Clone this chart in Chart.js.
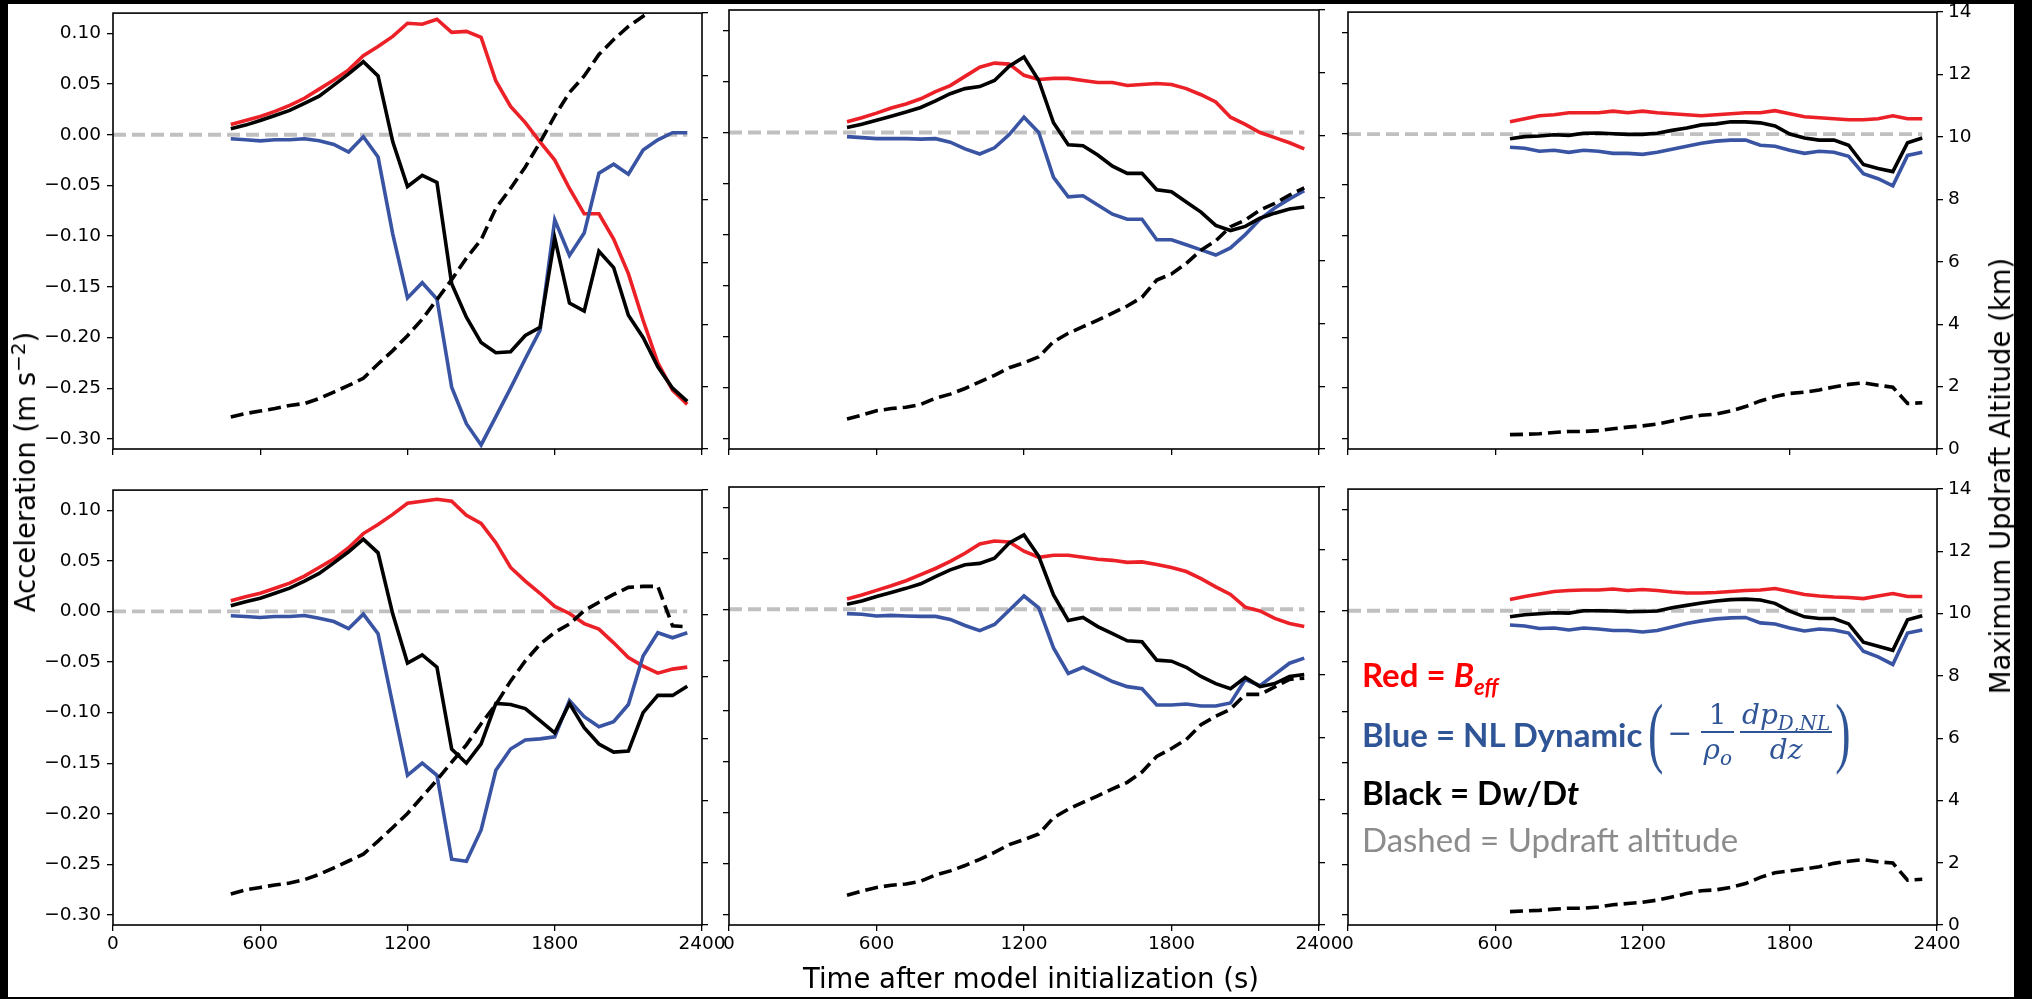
<!DOCTYPE html>
<html>
<head>
<meta charset="utf-8">
<script src="https://cdn.jsdelivr.net/npm/chart.js@4.4.0/dist/chart.umd.min.js"></script>
<style>
html, body { margin: 0; padding: 0; background: #fff; }
#fig { position: relative; width: 2032px; height: 999px; overflow: hidden; background: #fff; font-family: "DejaVu Sans", sans-serif; }
#fig canvas { position: absolute; z-index: 1; }
.band { position: absolute; background: #000; z-index: 10; }
.lab { position: absolute; white-space: nowrap; color: #000; z-index: 5; font-size: 27.5px; transform: translate(-50%, -50%); }
.leg { position: absolute; white-space: nowrap; z-index: 5; font-family: Lato, sans-serif; font-weight: 700; font-size: 33px; line-height: 33px; }
.leg i { font-style: italic; }
.leg sub { font-size: 22px; vertical-align: -8px; line-height: 0; }
#formula { position: absolute; left: 1648px; top: 694px; height: 76px; display: flex; align-items: center; color: #2f5597; z-index: 5; font-family: "DejaVu Serif", serif; }
#formula .par { font-family: "Liberation Serif", serif; font-size: 46px; line-height: 46px; display: inline-block; transform: scaleY(1.7); }
#formula .minus { font-size: 30px; margin: 0 6px 0 4px; }
#formula .frac { display: inline-flex; flex-direction: column; align-items: center; margin: 0 3px; }
#formula .num, #formula .den { font-size: 28px; line-height: 33px; font-style: italic; padding: 0 2px; }
#formula .bar { align-self: stretch; border-top: 2px solid #2f5597; }
#formula sub { font-size: 20px; vertical-align: -6px; line-height: 0; }
</style>
</head>
<body>
<div id="fig">
  <div class="band" style="left:0;top:0;width:2032px;height:4px"></div>
  <div class="band" style="left:0;top:0;width:8px;height:999px"></div>
  <div class="band" style="left:2014px;top:0;width:18px;height:999px"></div>
  <div class="band" style="left:0;top:997px;width:2032px;height:2px"></div>

  <div class="lab" style="left:1031px;top:978px">Time after model initialization (s)</div>
  <div class="lab" style="left:25px;top:472px;transform:translate(-50%,-50%) rotate(-90deg)">Acceleration (m s<sup style="font-size:20px;vertical-align:10px;line-height:0">−2</sup>)</div>
  <div class="lab" style="left:2000px;top:476px;transform:translate(-50%,-50%) rotate(-90deg)">Maximum Updraft Altitude (km)</div>

  <div class="leg" style="left:1362px;top:658px;color:#ff0000">Red = <i>B<sub>eff</sub></i></div>
  <div class="leg" style="left:1362px;top:718px;color:#2f5597">Blue = NL Dynamic</div>
  <div id="formula">
    <span class="par">(</span>
    <span class="minus">−</span>
    <span class="frac"><span class="num" style="font-style:normal">1</span><span class="bar"></span><span class="den">ρ<sub>o</sub></span></span>
    <span class="frac"><span class="num">dp<sub>D,NL</sub></span><span class="bar"></span><span class="den">dz</span></span>
    <span class="par">)</span>
  </div>
  <div class="leg" style="left:1362px;top:776px;color:#000">Black = D<i>w</i>/D<i>t</i></div>
  <div class="leg" style="left:1362px;top:823px;color:#8c8c8c;font-weight:400">Dashed = Updraft altitude</div>
</div>
<script>
// time axis (s)
var timeA = [480, 540, 600, 660, 720, 780, 840, 900, 960, 1020, 1080, 1140, 1200, 1260, 1320, 1380,
             1440, 1500, 1560, 1620, 1680, 1740, 1800, 1860, 1920, 1980, 2040, 2100, 2160, 2220, 2280, 2340];
var timeB = [660, 720, 780, 840, 900, 960, 1020, 1080, 1140, 1200, 1260, 1320, 1380, 1440, 1500,
             1560, 1620, 1680, 1740, 1800, 1860, 1920, 1980, 2040, 2100, 2160, 2220, 2280, 2340];

var timeTicks = [0, 600, 1200, 1800, 2400];
var accelTicks = [-0.30, -0.25, -0.20, -0.15, -0.10, -0.05, 0.00, 0.05, 0.10];
var altTicks = [0, 2, 4, 6, 8, 10, 12, 14];

// top left
var redTL = [0.010, 0.014, 0.018, 0.023, 0.029, 0.036, 0.045, 0.054, 0.064, 0.078, 0.087, 0.097, 0.110, 0.109, 0.114, 0.101,
             0.102, 0.096, 0.053, 0.028, 0.012, -0.007, -0.025, -0.053, -0.078, -0.078, -0.103, -0.137, -0.183, -0.225, -0.252, -0.266];
var blueTL = [-0.004, -0.005, -0.006, -0.005, -0.005, -0.004, -0.006, -0.0095, -0.017, -0.002, -0.022, -0.098, -0.161, -0.146, -0.162, -0.249,
              -0.285, -0.306, -0.278, -0.250, -0.221, -0.193, -0.084, -0.119, -0.097, -0.038, -0.029, -0.039, -0.015, -0.005, 0.002, 0.002];
var blackTL = [0.006, 0.0095, 0.014, 0.019, 0.024, 0.031, 0.038, 0.049, 0.060, 0.072, 0.058, -0.007, -0.051, -0.040, -0.047, -0.147,
               -0.180, -0.205, -0.215, -0.214, -0.198, -0.190, -0.102, -0.166, -0.174, -0.115, -0.131, -0.178, -0.200, -0.229, -0.250, -0.263];
var altTL = [1.03, 1.14, 1.22, 1.30, 1.40, 1.46, 1.62, 1.83, 2.04, 2.27, 2.73, 3.16, 3.64, 4.17, 4.80, 5.44,
             6.13, 6.72, 7.73, 8.37, 9.06, 9.85, 10.70, 11.45, 11.98, 12.67, 13.15, 13.57, 13.90, 14.20, null, null];

// top middle
var redTM = [0.0105, 0.0144, 0.019, 0.024, 0.028, 0.033, 0.040, 0.046, 0.055, 0.064, 0.068, 0.067, 0.056, 0.052, 0.053, 0.053,
             0.051, 0.049, 0.049, 0.046, 0.047, 0.048, 0.047, 0.043, 0.037, 0.030, 0.015, 0.008, 0.000, -0.005, -0.010, -0.016];
var blueTM = [-0.004, -0.005, -0.006, -0.006, -0.006, -0.0065, -0.006, -0.0095, -0.016, -0.021, -0.015, -0.002, 0.015, 0.000, -0.044, -0.063,
              -0.062, -0.071, -0.080, -0.085, -0.085, -0.105, -0.105, -0.110, -0.115, -0.120, -0.113, -0.100, -0.085, -0.074, -0.065, -0.057];
var blackTM = [0.005, 0.008, 0.012, 0.016, 0.020, 0.0245, 0.031, 0.038, 0.043, 0.045, 0.051, 0.065, 0.074, 0.051, 0.0095, -0.012,
               -0.013, -0.022, -0.033, -0.040, -0.040, -0.056, -0.058, -0.068, -0.078, -0.091, -0.096, -0.092, -0.084, -0.079, -0.075, -0.073];
var altTM = [0.96, 1.08, 1.22, 1.29, 1.33, 1.42, 1.62, 1.75, 1.93, 2.14, 2.35, 2.59, 2.75, 2.94, 3.42, 3.69,
             3.90, 4.11, 4.33, 4.56, 4.84, 5.39, 5.58, 5.92, 6.34, 6.64, 7.09, 7.30, 7.62, 7.83, 8.10, 8.33];

// top right
var redTR = [0.012, 0.015, 0.018, 0.019, 0.021, 0.021, 0.021, 0.0225, 0.021, 0.0225, 0.021, 0.020, 0.019, 0.018, 0.019,
             0.020, 0.021, 0.021, 0.023, 0.020, 0.017, 0.016, 0.015, 0.014, 0.014, 0.015, 0.018, 0.015, 0.015];
var blueTR = [-0.013, -0.014, -0.017, -0.016, -0.018, -0.016, -0.017, -0.019, -0.019, -0.020, -0.018, -0.015, -0.012, -0.009, -0.007,
              -0.006, -0.006, -0.011, -0.012, -0.016, -0.019, -0.017, -0.018, -0.022, -0.039, -0.044, -0.051, -0.021, -0.018];
var blackTR = [-0.0046, -0.0026, -0.002, -0.0007, -0.0013, 0.0007, 0.001, 0.0003, -0.0003, -0.0003, 0.0007, 0.0036, 0.006, 0.009, 0.010,
               0.012, 0.012, 0.011, 0.008, 0.000, -0.004, -0.006, -0.006, -0.011, -0.030, -0.034, -0.037, -0.0085, -0.004];
var altTR = [0.46, 0.47, 0.49, 0.53, 0.56, 0.56, 0.59, 0.65, 0.70, 0.74, 0.80, 0.90, 1.01, 1.08, 1.12,
             1.22, 1.36, 1.54, 1.68, 1.78, 1.82, 1.89, 1.99, 2.07, 2.12, 2.04, 1.98, 1.46, 1.48];

// bottom left
var redBL = [0.0105, 0.0145, 0.018, 0.023, 0.028, 0.035, 0.0435, 0.052, 0.063, 0.077, 0.086, 0.096, 0.107, 0.109, 0.111, 0.109,
             0.095, 0.087, 0.068, 0.0435, 0.030, 0.018, 0.005, -0.002, -0.012, -0.0175, -0.031, -0.0455, -0.054, -0.061, -0.057, -0.055];
var blueBL = [-0.0043, -0.005, -0.006, -0.005, -0.005, -0.004, -0.0066, -0.010, -0.017, -0.0026, -0.022, -0.092, -0.162, -0.150, -0.162, -0.245,
              -0.247, -0.216, -0.157, -0.136, -0.127, -0.126, -0.124, -0.088, -0.104, -0.114, -0.109, -0.092, -0.044, -0.021, -0.026, -0.021];
var blackBL = [0.0056, 0.0096, 0.013, 0.018, 0.023, 0.030, 0.0376, 0.048, 0.059, 0.0715, 0.058, -0.0026, -0.051, -0.043, -0.055, -0.136,
               -0.150, -0.131, -0.091, -0.092, -0.096, -0.108, -0.120, -0.091, -0.115, -0.131, -0.139, -0.138, -0.100, -0.083, -0.083, -0.074];
var altBL = [1.00, 1.13, 1.21, 1.29, 1.35, 1.46, 1.63, 1.84, 2.06, 2.28, 2.70, 3.14, 3.59, 4.13, 4.67, 5.24,
             5.80, 6.48, 7.10, 7.85, 8.50, 9.04, 9.42, 9.69, 10.12, 10.39, 10.64, 10.87, 10.90, 10.90, 9.63, 9.60];

// bottom middle
var redBM = [0.010, 0.014, 0.0185, 0.023, 0.028, 0.034, 0.040, 0.047, 0.055, 0.064, 0.067, 0.066, 0.057, 0.051, 0.053, 0.053,
             0.051, 0.049, 0.048, 0.046, 0.0465, 0.044, 0.041, 0.037, 0.030, 0.022, 0.0145, 0.002, -0.0017, -0.009, -0.014, -0.017];
var blueBM = [-0.0043, -0.005, -0.0066, -0.006, -0.0066, -0.007, -0.007, -0.010, -0.016, -0.021, -0.015, -0.001, 0.013, 0.0013, -0.038, -0.063,
              -0.057, -0.064, -0.071, -0.076, -0.078, -0.094, -0.094, -0.093, -0.095, -0.095, -0.092, -0.069, -0.075, -0.064, -0.053, -0.048];
var blackBM = [0.005, 0.008, 0.0125, 0.0165, 0.0205, 0.025, 0.032, 0.0386, 0.0436, 0.045, 0.050, 0.065, 0.073, 0.052, 0.014, -0.011,
               -0.008, -0.017, -0.024, -0.031, -0.032, -0.050, -0.051, -0.057, -0.066, -0.073, -0.078, -0.067, -0.076, -0.073, -0.066, -0.064];
var altBM = [0.95, 1.08, 1.20, 1.27, 1.31, 1.40, 1.60, 1.73, 1.90, 2.10, 2.32, 2.57, 2.73, 2.91, 3.43, 3.70,
             3.92, 4.13, 4.35, 4.56, 4.89, 5.39, 5.64, 5.93, 6.40, 6.67, 6.90, 7.37, 7.37, 7.61, 7.85, 7.89];

// bottom right
var redBR = [0.011, 0.014, 0.0165, 0.019, 0.020, 0.0205, 0.0205, 0.0215, 0.020, 0.021, 0.020, 0.0185, 0.0175, 0.0175, 0.018,
             0.019, 0.020, 0.0205, 0.022, 0.019, 0.016, 0.0145, 0.0135, 0.013, 0.012, 0.0145, 0.017, 0.014, 0.014];
var blueBR = [-0.014, -0.015, -0.0175, -0.017, -0.019, -0.017, -0.018, -0.0195, -0.0195, -0.021, -0.0195, -0.016, -0.0125, -0.010, -0.008,
              -0.007, -0.0066, -0.012, -0.013, -0.017, -0.020, -0.018, -0.019, -0.022, -0.040, -0.0455, -0.053, -0.022, -0.019];
var blackBR = [-0.006, -0.004, -0.003, -0.002, -0.0023, 0.000, 0.000, -0.0003, -0.001, -0.0007, -0.0003, 0.003, 0.0053, 0.0076, 0.0096,
               0.011, 0.0115, 0.0106, 0.0073, -0.0003, -0.006, -0.0076, -0.0076, -0.013, -0.031, -0.035, -0.039, -0.009, -0.005];
var altBR = [0.43, 0.45, 0.47, 0.51, 0.54, 0.54, 0.58, 0.65, 0.69, 0.73, 0.80, 0.90, 1.01, 1.10, 1.13,
             1.21, 1.33, 1.53, 1.68, 1.74, 1.80, 1.87, 1.98, 2.05, 2.10, 2.03, 1.99, 1.44, 1.47];

var RED = '#ec2027';
var BLUE = '#3a54a4';
var GRAY = '#c0c0c0';

// panel boxes (plot area in page pixels)
var panels = [
  {L: 113, T: 10, R: 702, B: 449, t: timeA, red: redTL, blue: blueTL, black: blackTL, alt: altTL, xl: false, yl: true, yr: false},
  {L: 729, T: 10, R: 1319, B: 449, t: timeA, red: redTM, blue: blueTM, black: blackTM, alt: altTM, xl: false, yl: false, yr: false},
  {L: 1348, T: 10, R: 1937, B: 449, t: timeB, red: redTR, blue: blueTR, black: blackTR, alt: altTR, xl: false, yl: false, yr: true},
  {L: 113, T: 487, R: 702, B: 925, t: timeA, red: redBL, blue: blueBL, black: blackBL, alt: altBL, xl: true, yl: true, yr: false},
  {L: 729, T: 487, R: 1319, B: 925, t: timeA, red: redBM, blue: blueBM, black: blackBM, alt: altBM, xl: true, yl: false, yr: false},
  {L: 1348, T: 487, R: 1937, B: 925, t: timeB, red: redBR, blue: blueBR, black: blackBR, alt: altBR, xl: true, yl: false, yr: true}
];

var PADL = 90, PADR = 90, PADT = 14, PADB = 60;

var framePlugin = {
  id: 'frame',
  afterDatasetsDraw: function(chart) {
    var a = chart.chartArea, ctx = chart.ctx;
    ctx.save();
    ctx.strokeStyle = '#000';
    ctx.lineWidth = 1.6;
    ctx.strokeRect(a.left, a.top, a.right - a.left, a.bottom - a.top);
    ctx.restore();
  }
};

function pts(xs, ys) {
  var out = [];
  for (var i = 0; i < xs.length; i++) out.push({x: xs[i], y: ys[i]});
  return out;
}

function tickGrid() {
  return {display: true, drawOnChartArea: false, drawTicks: true, tickLength: 6, color: '#000', lineWidth: 1.3};
}
var tickFont = {family: 'DejaVu Sans', size: 18.5};

function fmtAccel(v) {
  var s = Math.abs(v).toFixed(2);
  return (v < -1e-9 ? '\u2212' : '') + s;
}

var fig = document.getElementById('fig');
panels.forEach(function(p) {
  var cv = document.createElement('canvas');
  var w = p.R - p.L + PADL + PADR, h = p.B - p.T + PADT + PADB;
  cv.width = w; cv.height = h;
  cv.style.width = w + 'px'; cv.style.height = h + 'px';
  cv.style.left = (p.L - PADL) + 'px';
  cv.style.top = (p.T - PADT) + 'px';
  fig.appendChild(cv);

  var tEnd = p.t[p.t.length - 1];
  new Chart(cv, {
    type: 'line',
    data: {
      datasets: [
        {data: pts(p.t, p.alt), yAxisID: 'yR', borderColor: '#000', borderWidth: 3.6, borderDash: [13, 6], clip: 0},
        {data: pts(p.t, p.black), yAxisID: 'yL', borderColor: '#000', borderWidth: 3.6, clip: 0},
        {data: pts(p.t, p.blue), yAxisID: 'yL', borderColor: BLUE, borderWidth: 3.6, clip: 0},
        {data: pts(p.t, p.red), yAxisID: 'yL', borderColor: RED, borderWidth: 3.6, clip: 0},
        {data: [{x: 0, y: 0}, {x: tEnd, y: 0}], yAxisID: 'yL', borderColor: GRAY, borderWidth: 3.8, borderDash: [13, 6], clip: 0}
      ]
    },
    options: {
      responsive: false,
      animation: false,
      devicePixelRatio: 1,
      layout: {padding: {top: PADT, left: 0, right: 0, bottom: 0}},
      plugins: {legend: {display: false}, tooltip: {enabled: false}},
      elements: {point: {radius: 0}, line: {tension: 0, fill: false}},
      scales: {
        x: {
          type: 'linear', min: 0, max: 2400,
          grid: tickGrid(), border: {display: false},
          ticks: {display: p.xl, font: tickFont, color: '#000', padding: 2, maxRotation: 0,
                  callback: function(v) { return String(v); }},
          afterBuildTicks: function(s) { s.ticks = timeTicks.map(function(v) { return {value: v}; }); },
          afterFit: function(s) { s.height = PADB; }
        },
        yL: {
          type: 'linear', position: 'left', min: -0.31, max: 0.12,
          grid: tickGrid(), border: {display: false},
          ticks: {display: p.yl, font: tickFont, color: '#000', padding: 6, callback: function(v) { return fmtAccel(v); }},
          afterBuildTicks: function(s) { s.ticks = accelTicks.map(function(v) { return {value: v}; }); },
          afterFit: function(s) { s.width = PADL; }
        },
        yR: {
          type: 'linear', position: 'right', min: 0, max: 14,
          grid: tickGrid(), border: {display: false},
          ticks: {display: p.yr, font: tickFont, color: '#000', padding: 5,
                  callback: function(v) { return String(v); }},
          afterBuildTicks: function(s) { s.ticks = altTicks.map(function(v) { return {value: v}; }); },
          afterFit: function(s) { s.width = PADR; }
        }
      }
    },
    plugins: [framePlugin]
  });
});
</script>
</body>
</html>
